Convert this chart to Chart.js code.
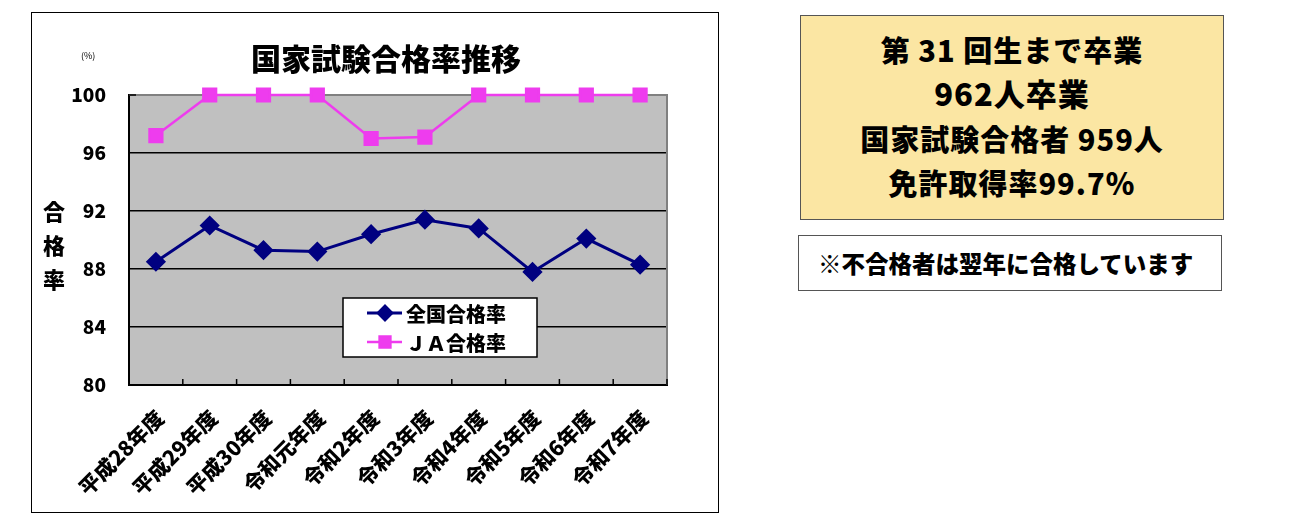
<!DOCTYPE html>
<html lang="ja">
<head>
<meta charset="utf-8">
<title>国家試験合格率推移</title>
<script src="https://cdn.jsdelivr.net/npm/chart.js@4.4.1/dist/chart.umd.min.js"></script>
<style>
  body { margin: 0; background: #fff; font-family: 'Noto Sans CJK JP', sans-serif; }
  #frame { position: absolute; left: 31px; top: 12px; width: 686px; height: 499px; border: 1px solid #000; }
  #grafico { position: absolute; left: 0; top: 0; }
  .txt { position: absolute; font-weight: 900; color: #000; white-space: nowrap; }
  #titulo { left: 2px; width: 704px; top: 26px; text-align: center; font-size: 30px; line-height: 36px; }
  #pct { left: 49px; top: 36px; font-size: 9px; font-weight: normal; }
  #ytit { left: 10px; top: 180px; width: 24px; font-size: 22px; line-height: 34px; text-align: center; }
  #resumo { position: absolute; left: 800px; top: 15px; width: 422px; height: 203px; background: #fbe6a3; border: 1px solid #555; }
  #resumo div { position: absolute; left: 0; width: 422px; text-align: center; font-weight: 900; font-size: 29px; line-height: 40px; letter-spacing: 1px; }
  #nota { position: absolute; left: 798px; top: 235px; width: 422px; height: 54px; border: 1px solid #555; background: #fff; }
  #nota div { position: absolute; left: 19px; top: 8px; font-weight: 900; font-size: 23.5px; line-height: 38px; }
</style>
</head>
<body>
<div id="frame">
  <canvas id="grafico" width="686" height="499"></canvas>
  <div class="txt" id="titulo">国家試験合格率推移</div>
  <div class="txt" id="pct">(%)</div>
  <div class="txt" id="ytit">合<br>格<br>率</div>
</div>
<div id="resumo">
  <div style="top:13px">第 31 回生まで卒業</div>
  <div style="top:57px; font-size:31px">962人卒業</div>
  <div style="top:102px">国家試験合格者 959人</div>
  <div style="top:146px">免許取得率99.7％</div>
</div>
<div id="nota"><div>※不合格者は翌年に合格しています</div></div>

<script>
const categorias = ['平成28年度', '平成29年度', '平成30年度', '令和元年度', '令和2年度',
                    '令和3年度', '令和4年度', '令和5年度', '令和6年度', '令和7年度'];
const taxaNacional = [88.5, 91.0, 89.3, 89.2, 90.4, 91.4, 90.8, 87.8, 90.1, 88.3];
const taxaJA = [97.2, 100, 100, 100, 97.0, 97.1, 100, 100, 100, 100];
const rotulos = ['全国合格率', 'ＪＡ合格率'];
const yMin = 80, yMax = 100, yPasso = 4;

const FONTE = "'Noto Sans CJK JP', sans-serif";

// fundo cinza, borda cinza e marcas internas dos eixos
const fundoPlot = {
    id: 'fundoPlot',
    beforeDraw(chart) {
        const { ctx, chartArea: a } = chart;
        ctx.save();
        ctx.fillStyle = '#c0c0c0';
        ctx.fillRect(a.left, a.top, a.right - a.left, a.bottom - a.top);
        ctx.restore();
    },
    beforeDatasetsDraw(chart) {
        const { ctx, chartArea: a } = chart;
        const x = chart.scales.x;
        ctx.save();
        ctx.strokeStyle = '#808080';
        ctx.lineWidth = 2;
        ctx.beginPath();
        ctx.moveTo(a.left, a.top);
        ctx.lineTo(a.right, a.top);
        ctx.lineTo(a.right, a.bottom);
        ctx.stroke();
        ctx.strokeStyle = '#000';
        ctx.lineWidth = 1.5;
        ctx.beginPath();
        for (let i = 1; i <= categorias.length; i++) {
            const px = i < categorias.length
                ? (x.getPixelForValue(i - 1) + x.getPixelForValue(i)) / 2
                : a.right;
            ctx.moveTo(px, a.bottom);
            ctx.lineTo(px, a.bottom - 6);
        }
        ctx.moveTo(a.left, a.top);
        ctx.lineTo(a.left + 7, a.top);
        ctx.stroke();
        ctx.restore();
    }
};

// legenda dentro da área do gráfico
const legendaCaixa = {
    id: 'legendaCaixa',
    afterDraw(chart) {
        const ctx = chart.ctx;
        const bx = 311, by = 285, bw = 194, bh = 59;
        ctx.save();
        ctx.fillStyle = '#fff';
        ctx.fillRect(bx, by, bw, bh);
        ctx.strokeStyle = '#000';
        ctx.lineWidth = 1.5;
        ctx.strokeRect(bx, by, bw, bh);
        chart.data.datasets.forEach((ds, i) => {
            const yy = by + 15 + i * 29;
            ctx.strokeStyle = ds.borderColor;
            ctx.lineWidth = ds.borderWidth;
            ctx.beginPath();
            ctx.moveTo(bx + 24, yy);
            ctx.lineTo(bx + 59, yy);
            ctx.stroke();
            Chart.helpers.drawPoint(ctx, {
                pointStyle: ds.pointStyle, radius: ds.pointRadius * 0.85,
                borderWidth: 1, rotation: 0
            }, bx + 42, yy);
            ctx.fillStyle = ds.pointBackgroundColor;
            ctx.strokeStyle = ds.pointBorderColor;
            ctx.fill();
            ctx.fillStyle = '#000';
            ctx.font = '900 20px ' + FONTE;
            ctx.textBaseline = 'middle';
            ctx.fillText(ds.label, bx + 63, yy + 1);
        });
        ctx.restore();
    }
};

function criarGrafico() {
    const ctx = document.getElementById('grafico').getContext('2d');
    Chart.defaults.font.family = FONTE;
    Chart.defaults.color = '#000';

    new Chart(ctx, {
        type: 'line',
        data: {
            labels: categorias,
            datasets: [
                {
                    label: rotulos[0],
                    data: taxaNacional,
                    borderColor: '#000080',
                    borderWidth: 3,
                    pointStyle: 'rectRot',
                    pointRadius: 8,
                    pointBackgroundColor: '#000080',
                    pointBorderColor: '#000080',
                    tension: 0,
                    clip: false
                },
                {
                    label: rotulos[1],
                    data: taxaJA,
                    borderColor: '#ee3cee',
                    borderWidth: 2.5,
                    pointStyle: 'rect',
                    pointRadius: 9,
                    pointBackgroundColor: '#ee3cee',
                    pointBorderColor: '#ee3cee',
                    tension: 0,
                    clip: false
                }
            ]
        },
        options: {
            animation: false,
            responsive: false,
            events: [],
            layout: { padding: { top: 82, right: 51, left: 0, bottom: 0 } },
            plugins: {
                legend: { display: false },
                tooltip: { enabled: false },
                title: { display: false }
            },
            scales: {
                x: {
                    offset: true,
                    grid: { display: false, drawTicks: false },
                    border: { display: true, color: '#000', width: 2 },
                    ticks: {
                        autoSkip: false,
                        maxRotation: 45,
                        minRotation: 45,
                        padding: 20,
                        labelOffset: 4,
                        font: { size: 21, weight: '900' }
                    },
                    afterFit(s) { s.height = 127; }
                },
                y: {
                    min: yMin,
                    max: yMax,
                    grid: {
                        drawTicks: false,
                        lineWidth: 1.5,
                        color: (c) => (c.tick && c.tick.value === yMax) ? '#808080' : '#000'
                    },
                    border: { display: true, color: '#000', width: 2 },
                    ticks: {
                        stepSize: yPasso,
                        padding: 23,
                        font: { size: 19, weight: '900' }
                    },
                    afterFit(s) { s.width = 97; }
                }
            }
        },
        plugins: [fundoPlot, legendaCaixa]
    });
}

window.addEventListener('DOMContentLoaded', () => {
    document.fonts.load('900 18px "Noto Sans CJK JP"').then(criarGrafico, criarGrafico);
});
</script>
</body>
</html>
